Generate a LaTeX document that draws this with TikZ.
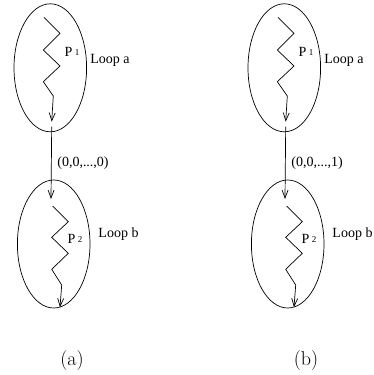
\documentclass[tikz,border=0pt]{standalone}
\usepackage{fontspec}
\newfontfamily\xfigfont{Liberation Serif}
\usetikzlibrary{shapes.geometric,arrows.meta}
\newcommand\mypanel[4]{%
  \begin{scope}[xshift=#2]
  \node[loopbox] (#1A) at (50.3,67.8) {};
  \node[loopbox] (#1B) at (53.7,244) {};
  \coordinate (#1a0) at (44,17.3);
  \coordinate (#1a1) at (51.7,121.7);
  \draw[zz,arr] (#1a0) -- (60,33.3) -- (43.3,50) -- (60,66) -- (43.3,81.7) -- (53.3,96) -- (#1a1);
  \coordinate (#1b0) at (52.7,206);
  \coordinate (#1b1) at (60,307.3);
  \draw[zz,arr] (#1b0) -- (68.3,221.7) -- (51.7,237.3) -- (68.3,253.3) -- (51.7,269.3) -- (61.7,285) -- (#1b1);
  \coordinate (#1c0) at (51.7,126.7);
  \coordinate (#1c1) at (51,199);
  \draw[zz,arr] (#1c0) -- (#1c1);
  \node[lab] (#1P1) at (72,52) {P\hspace{2.5pt}\raisebox{1pt}{\fontsize{9}{10}\selectfont 1}};
  \node[lab] (#1P2) at (75,239) {P\hspace{2.5pt}\raisebox{1pt}{\fontsize{9}{10}\selectfont 2}};
  \node[lab] (#1La) at (110,60) {Loop a};
  \node[lab] (#1Lb) at (118.5,234) {Loop b};
  \node[lab] (#1v) at (83,163) {#3};
  \node[captext] (#1cap) at (72,361) {#4};
  \end{scope}}
\begin{document}
\begin{tikzpicture}[x=1pt,y=-1pt,
  loopbox/.style={draw,ellipse,minimum width=72.6pt,minimum height=128pt,inner sep=0pt,line width=0.7pt},
  zz/.style={line width=0.7pt,line join=miter},
  arr/.style={-{Straight Barb[length=8pt,width=6pt]}},
  lab/.style={font=\xfigfont\fontsize{14}{16}\selectfont,inner sep=0pt},
  captext/.style={font=\fontsize{20}{24}\selectfont,inner sep=0pt}]
\path[use as bounding box] (0,0) rectangle (373,375);
\mypanel{L}{0pt}{(0,0,...,0)}{(a)}
\mypanel{R}{234pt}{(0,0,...,1)}{(b)}
\end{tikzpicture}
\end{document}
